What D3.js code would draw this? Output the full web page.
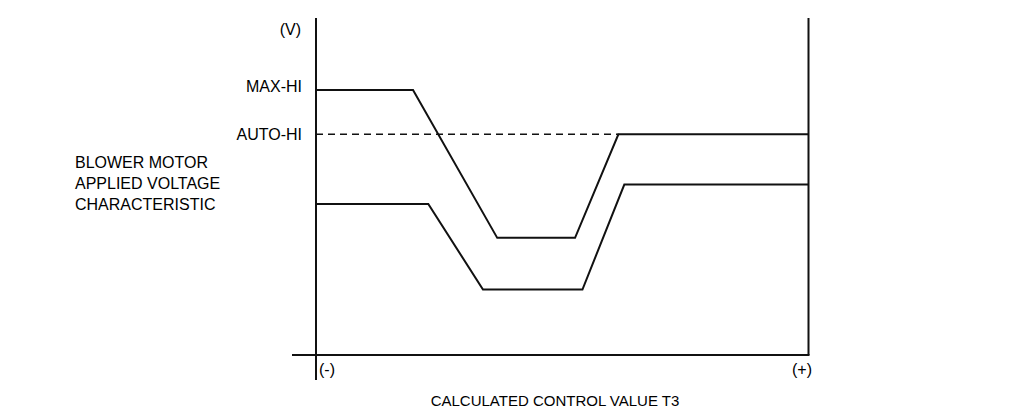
<!DOCTYPE html>
<html><head><meta charset="utf-8">
<script src="https://cdn.jsdelivr.net/npm/d3@7"></script>
<style>body{margin:0;background:#fff}svg{display:block}text{font-family:"Liberation Sans",Arial,sans-serif;font-size:16px;fill:#000}</style>
</head><body>
<script>
// Data (x: calculated control value T3, 0..100 ; y: applied voltage, 0..100 where MAX-HI = 100)
const upperX = [0, 19.7, 36.8, 52.6, 61.4, 100];
const upperY = [100, 100, 44.2, 44.2, 83.3, 83.3];
const lowerX = [0, 22.8, 33.9, 54.1, 62.6, 100];
const lowerY = [57.0, 57.0, 24.7, 24.7, 64.3, 64.3];
const autoHiX = [0, 61.4];
const autoHiY = [83.3, 83.3];
const yLabels = ["MAX-HI", "AUTO-HI"];
const yLabelValues = [100, 83.3];
const xTickLabels = ["(-)", "(+)"];
const xTickValues = [0, 100];
const leftTitle = ["BLOWER MOTOR", "APPLIED VOLTAGE", "CHARACTERISTIC"];
const xTitle = "CALCULATED CONTROL VALUE T3";
const yUnit = "(V)";

const W = 1022, H = 410;
const svg = d3.select("body").append("svg").attr("width", W).attr("height", H);
const x = d3.scaleLinear().domain([0, 100]).range([316, 808.5]);
const y = d3.scaleLinear().domain([0, 100]).range([355, 90]);
const ink = "#111";

// axes
svg.append("line").attr("x1", x(0)).attr("x2", x(0)).attr("y1", 18).attr("y2", 380)
  .attr("stroke", ink).attr("stroke-width", 2);
svg.append("line").attr("x1", 292).attr("x2", x(100) + 1).attr("y1", y(0)).attr("y2", y(0))
  .attr("stroke", ink).attr("stroke-width", 2);
svg.append("line").attr("x1", x(100)).attr("x2", x(100)).attr("y1", 18).attr("y2", y(0))
  .attr("stroke", ink).attr("stroke-width", 2);

const line = d3.line().x(d => x(d[0])).y(d => y(d[1]));
svg.append("path").datum(d3.zip(upperX, upperY)).attr("d", line)
  .attr("fill", "none").attr("stroke", ink).attr("stroke-width", 2);
svg.append("path").datum(d3.zip(lowerX, lowerY)).attr("d", line)
  .attr("fill", "none").attr("stroke", ink).attr("stroke-width", 2);
svg.append("path").datum(d3.zip(autoHiX, autoHiY)).attr("d", line)
  .attr("fill", "none").attr("stroke", ink).attr("stroke-width", 1.5).attr("stroke-dasharray", "7,5");

// y labels
svg.append("text").attr("x", 301).attr("y", 35).attr("text-anchor", "end").text(yUnit);
const yOff = [2, 6];
svg.selectAll(".yl").data(yLabels).enter().append("text")
  .attr("x", 302).attr("y", (d, i) => y(yLabelValues[i]) + yOff[i]).attr("text-anchor", "end").text(d => d);

// x tick labels
svg.append("text").attr("x", 319).attr("y", 375).attr("text-anchor", "start").text(xTickLabels[0]);
svg.append("text").attr("x", 812).attr("y", 375).attr("text-anchor", "end").text(xTickLabels[1]);

svg.append("text").attr("x", 555).attr("y", 406).attr("text-anchor", "middle")
  .style("font-size", "15px").text(xTitle);

svg.selectAll(".lt").data(leftTitle).enter().append("text")
  .attr("x", 75).attr("y", (d, i) => 168 + i * 21).text(d => d);
</script>
</body></html>
